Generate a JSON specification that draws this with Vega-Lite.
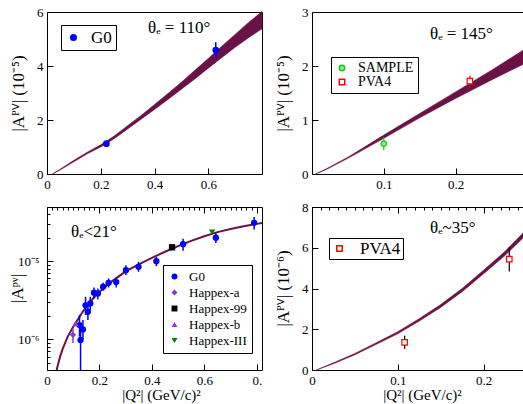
{
 "$schema": "https://vega.github.io/schema/vega-lite/v6.json",
 "padding": {"left": 7, "top": 5, "right": 0, "bottom": 0},
 "config": {
  "font": "Liberation Serif",
  "view": {"stroke": "black", "strokeWidth": 1},
  "axis": {"domain": false, "grid": false, "tickColor": "black", "tickWidth": 1, "labelColor": "black", "labelFont": "Liberation Serif", "labelFontSize": 13, "titleFont": "Liberation Serif", "titleFontSize": 17, "titleFontWeight": "normal", "titleColor": "black"},
  "legend": {"strokeColor": "black", "fillColor": "white", "labelFont": "Liberation Serif", "labelColor": "black"}
 },
 "columns": 2,
 "spacing": {"row": 33, "column": 50},
 "bounds": "flush",
 "resolve": {"scale": {"color": "independent", "shape": "independent", "fill": "independent", "stroke": "independent"}},
 "concat": [
    {
     "width": 215, "height": 162,
     "layer": [
      {
       "data": {"values": [
        {"q2":0.02,"lo":0,"hi":0},{"q2":0.05,"lo":0.155,"hi":0.185},{"q2":0.1,"lo":0.455,"hi":0.505},{"q2":0.15,"lo":0.75,"hi":0.81},{"q2":0.2,"lo":1.0,"hi":1.08},{"q2":0.25,"lo":1.31,"hi":1.41},{"q2":0.3,"lo":1.67,"hi":1.79},{"q2":0.35,"lo":2.03,"hi":2.17},{"q2":0.4,"lo":2.39,"hi":2.57},{"q2":0.45,"lo":2.76,"hi":2.98},{"q2":0.5,"lo":3.14,"hi":3.4},{"q2":0.55,"lo":3.52,"hi":3.84},{"q2":0.6,"lo":3.92,"hi":4.28},{"q2":0.65,"lo":4.31,"hi":4.73},{"q2":0.7,"lo":4.69,"hi":5.17},{"q2":0.75,"lo":5.05,"hi":5.61},{"q2":0.8,"lo":5.38,"hi":6.02}
       ]},
       "mark": {"type": "area", "color": "#6a1245", "stroke": "#6a1245", "strokeWidth": 0.6},
       "encoding": {
        "x": {"field": "q2", "type": "quantitative", "title": null, "scale": {"domain": [0, 0.8], "nice": false, "zero": false},
         "axis": {"labelOverlap": false, "labelSeparation": -1000, "labelFlush": false, "labelPadding": 10, "tickSize": -6,
          "values": [0, 0.2, 0.4, 0.6], "labelExpr": "format(datum.value,'.1~f')"}},
        "y": {"field": "lo", "type": "quantitative", "title": "|Aᴾⱽ| (10⁻⁵)", "scale": {"domain": [0, 6], "nice": false},
         "axis": {"labelOverlap": false, "labelSeparation": -1000, "labelFlush": false, "labelPadding": 10, "tickSize": -6,
          "values": [0, 1, 2, 3, 4, 5, 6], "labelExpr": "format(datum.value,'d')",
          "titleX": -29, "titleY": 81, "titleAngle": -90, "titleBaseline": "middle", "titleAlign": "center"}},
        "y2": {"field": "hi"}
       }
      },
      {
       "data": {"values": [{"exp":"G0","q2":0.221,"a":1.125,"lo":1.04,"hi":1.21},{"exp":"G0","q2":0.628,"a":4.59,"lo":4.3,"hi":4.88}]},
       "mark": {"type": "rule", "color": "blue", "strokeWidth": 1.5},
       "encoding": {"x": {"field": "q2", "type": "quantitative"}, "y": {"field": "lo", "type": "quantitative"}, "y2": {"field": "hi"}}
      },
      {
       "data": {"values": [{"exp":"G0","q2":0.221,"a":1.125,"lo":1.04,"hi":1.21},{"exp":"G0","q2":0.628,"a":4.59,"lo":4.3,"hi":4.88}]},
       "mark": {"type": "point", "filled": true, "opacity": 1, "size": 45},
       "encoding": {
        "x": {"field": "q2", "type": "quantitative"},
        "y": {"field": "a", "type": "quantitative"},
        "color": {"field": "exp", "type": "nominal", "scale": {"domain": ["G0"], "range": ["blue"]},
         "legend": {"title": null, "orient": "none", "legendX": 14, "legendY": 13, "padding": 4, "labelFontSize": 17, "symbolSize": 50, "labelOffset": 9}},
        "shape": {"field": "exp", "type": "nominal", "scale": {"domain": ["G0"], "range": ["circle"]},
         "legend": {"title": null, "orient": "none", "legendX": 14, "legendY": 13, "padding": 4, "labelFontSize": 17, "symbolSize": 50, "labelOffset": 9}}
       }
      },
      {
       "data": {"values": [{}]},
       "mark": {"type": "text", "align": "left", "baseline": "alphabetic", "fontSize": 17, "font": "Liberation Serif", "color": "black"},
       "encoding": {"x": {"datum": 0.376}, "y": {"datum": 5.22}, "text": {"value": "θₑ = 110°"}}
      }
     ]
    },
    {
     "width": 211, "height": 162,
     "layer": [
      {
       "data": {"values": [
        {"q2":0.005,"lo":0,"hi":0},{"q2":0.02,"lo":0.085,"hi":0.095},{"q2":0.05,"lo":0.29,"hi":0.31},{"q2":0.1,"lo":0.66,"hi":0.72},{"q2":0.15,"lo":1.04,"hi":1.12},{"q2":0.2,"lo":1.4,"hi":1.52},{"q2":0.25,"lo":1.74,"hi":1.92},{"q2":0.294,"lo":2.03,"hi":2.29}
       ]},
       "mark": {"type": "area", "color": "#6a1245", "stroke": "#6a1245", "strokeWidth": 0.6},
       "encoding": {
        "x": {"field": "q2", "type": "quantitative", "title": null, "scale": {"domain": [0, 0.294], "nice": false, "zero": false},
         "axis": {"labelOverlap": false, "labelSeparation": -1000, "labelFlush": false, "labelPadding": 10, "tickSize": -6,
          "values": [0.1, 0.2], "labelExpr": "format(datum.value,'.1~f')"}},
        "y": {"field": "lo", "type": "quantitative", "title": "|Aᴾⱽ| (10⁻⁵)", "scale": {"domain": [0, 3], "nice": false},
         "axis": {"labelOverlap": false, "labelSeparation": -1000, "labelFlush": false, "labelPadding": 10, "tickSize": -6,
          "values": [0, 0.5, 1, 1.5, 2, 2.5, 3], "labelExpr": "format(datum.value,'.1~f')",
          "titleX": -29, "titleY": 81, "titleAngle": -90, "titleBaseline": "middle", "titleAlign": "center"}},
        "y2": {"field": "hi"}
       }
      },
      {
       "data": {"values": [{"exp":"SAMPLE","q2":0.1,"a":0.561,"lo":0.44,"hi":0.68}]},
       "mark": {"type": "rule", "color": "#20c020", "strokeWidth": 1.2},
       "encoding": {"x": {"field": "q2", "type": "quantitative"}, "y": {"field": "lo", "type": "quantitative"}, "y2": {"field": "hi"}}
      },
      {
       "data": {"values": [{"exp":"PVA4","q2":0.22,"a":1.72,"lo":1.62,"hi":1.82}]},
       "mark": {"type": "rule", "color": "red", "strokeWidth": 1.2},
       "encoding": {"x": {"field": "q2", "type": "quantitative"}, "y": {"field": "lo", "type": "quantitative"}, "y2": {"field": "hi"}}
      },
      {
       "data": {"values": [{"exp":"SAMPLE","q2":0.1,"a":0.561},{"exp":"PVA4","q2":0.22,"a":1.72}]},
       "mark": {"type": "point", "filled": true, "opacity": 1, "size": 30, "strokeWidth": 1.2},
       "encoding": {
        "x": {"field": "q2", "type": "quantitative"},
        "y": {"field": "a", "type": "quantitative"},
        "fill": {"field": "exp", "type": "nominal", "scale": {"domain": ["SAMPLE", "PVA4"], "range": ["#80f080", "white"]},
         "legend": {"title": null, "orient": "none", "legendX": 19, "legendY": 45, "padding": 4, "labelFontSize": 14, "symbolSize": 30, "labelOffset": 9, "rowPadding": 0}},
        "stroke": {"field": "exp", "type": "nominal", "scale": {"domain": ["SAMPLE", "PVA4"], "range": ["#20c020", "red"]},
         "legend": {"title": null, "orient": "none", "legendX": 19, "legendY": 45, "padding": 4, "labelFontSize": 14, "symbolSize": 30, "labelOffset": 9, "rowPadding": 0}},
        "shape": {"field": "exp", "type": "nominal", "scale": {"domain": ["SAMPLE", "PVA4"], "range": ["circle", "square"]},
         "legend": {"title": null, "orient": "none", "legendX": 19, "legendY": 45, "padding": 4, "labelFontSize": 14, "symbolSize": 30, "labelOffset": 9, "rowPadding": 0}}
       }
      },
      {
       "data": {"values": [{}]},
       "mark": {"type": "text", "align": "left", "baseline": "alphabetic", "fontSize": 17, "font": "Liberation Serif", "color": "black"},
       "encoding": {"x": {"datum": 0.1644}, "y": {"datum": 2.5}, "text": {"value": "θₑ = 145°"}}
      }
     ]
    },
    {
     "width": 215, "height": 163,
     "resolve": {"axis": {"x": "independent"}},
     "layer": [
      {
       "layer": [
        {
         "data": {"values": [
          {"q2":0.035,"a":3.8e-7},{"q2":0.04,"a":4.5e-7},{"q2":0.05,"a":6.0e-7},{"q2":0.06,"a":7.6e-7},{"q2":0.08,"a":1.1e-6},{"q2":0.1,"a":1.45e-6},{"q2":0.12,"a":1.85e-6},{"q2":0.14,"a":2.35e-6},{"q2":0.16,"a":2.9e-6},{"q2":0.18,"a":3.45e-6},{"q2":0.2,"a":4.05e-6},{"q2":0.25,"a":5.6e-6},{"q2":0.3,"a":7.4e-6},{"q2":0.35,"a":9.1e-6},{"q2":0.4,"a":1.1e-5},{"q2":0.45,"a":1.32e-5},{"q2":0.5,"a":1.56e-5},{"q2":0.55,"a":1.82e-5},{"q2":0.6,"a":2.08e-5},{"q2":0.65,"a":2.35e-5},{"q2":0.7,"a":2.58e-5},{"q2":0.75,"a":2.8e-5},{"q2":0.8,"a":3.0e-5},{"q2":0.82,"a":3.08e-5}
         ]},
         "mark": {"type": "line", "color": "#6a1245", "strokeWidth": 2, "clip": true},
         "encoding": {
          "x": {"field": "q2", "type": "quantitative", "title": "|Q²| (GeV/c)²", "scale": {"domain": [0, 0.82], "nice": false, "zero": false},
           "axis": {"labelOverlap": false, "labelSeparation": -1000, "labelFlush": false, "labelPadding": 10, "tickSize": -6,
            "values": [0, 0.2, 0.4, 0.6, 0.8],
            "labelExpr": "datum.value > 0.7 ? '0.' : format(datum.value,'.1~f')",
            "titleFontSize": 15, "titleX": 114, "titleY": 29, "titleBaseline": "alphabetic", "titleAlign": "center"}},
          "y": {"field": "a", "type": "quantitative", "title": "|Aᵖᵛ|", "scale": {"type": "log", "domain": [4.05e-7, 4.93e-5], "nice": false},
           "axis": {"labelOverlap": false, "labelSeparation": -1000, "labelFlush": false, "labelPadding": 14,
            "values": [5e-7,6e-7,7e-7,8e-7,9e-7,1e-6,2e-6,3e-6,4e-6,5e-6,6e-6,7e-6,8e-6,9e-6,1e-5,2e-5,3e-5,4e-5],
            "tickSize": {"condition": {"test": "abs(log(datum.value)/LN10-round(log(datum.value)/LN10))<1e-6", "value": -6}, "value": -3},
            "labelExpr": "abs(log(datum.value)/LN10-round(log(datum.value)/LN10))<1e-6 ? (round(log(datum.value)/LN10) == -5 ? '10⁻⁵' : '10⁻⁶') : ''",
            "titleX": -30, "titleY": 81, "titleAngle": -90, "titleBaseline": "middle", "titleAlign": "center"}}
         }
        },
        {
         "data": {"values": [
          {"exp":"G0","q2":0.124,"a":1.52e-6,"lo":1.08e-6,"hi":2.05e-6},{"exp":"G0","q2":0.128,"a":0.98e-6,"lo":3.0e-7,"hi":1.52e-6},{"exp":"G0","q2":0.137,"a":1.34e-6,"lo":1.0e-6,"hi":1.77e-6},{"exp":"G0","q2":0.147,"a":2.72e-6,"lo":2.05e-6,"hi":3.5e-6},{"exp":"G0","q2":0.156,"a":2.25e-6,"lo":1.77e-6,"hi":2.88e-6},{"exp":"G0","q2":0.165,"a":2.88e-6,"lo":2.37e-6,"hi":3.51e-6},{"exp":"G0","q2":0.179,"a":3.95e-6,"lo":3.34e-6,"hi":4.61e-6},{"exp":"G0","q2":0.194,"a":3.87e-6,"lo":3.24e-6,"hi":4.48e-6},{"exp":"G0","q2":0.214,"a":4.7e-6,"lo":4.18e-6,"hi":5.28e-6},{"exp":"G0","q2":0.235,"a":5.28e-6,"lo":4.61e-6,"hi":6.01e-6},{"exp":"G0","q2":0.264,"a":5.4e-6,"lo":4.61e-6,"hi":6.2e-6},{"exp":"G0","q2":0.301,"a":7.67e-6,"lo":6.63e-6,"hi":8.89e-6},{"exp":"G0","q2":0.349,"a":8.47e-6,"lo":7.31e-6,"hi":9.8e-6},{"exp":"G0","q2":0.417,"a":1.0e-5,"lo":8.63e-6,"hi":1.135e-5},{"exp":"G0","q2":0.519,"a":1.65e-5,"lo":1.36e-5,"hi":1.94e-5},{"exp":"G0","q2":0.644,"a":2.0e-5,"lo":1.71e-5,"hi":2.3e-5},{"exp":"G0","q2":0.79,"a":3.09e-5,"lo":2.54e-5,"hi":3.68e-5},
          {"exp":"Happex-a","q2":0.099,"a":1.14e-6,"lo":0.9e-6,"hi":1.38e-6},{"exp":"Happex-99","q2":0.477,"a":1.505e-5,"lo":1.42e-5,"hi":1.59e-5},{"exp":"Happex-b","q2":0.109,"a":1.58e-6,"lo":1.45e-6,"hi":1.71e-6},{"exp":"Happex-III","q2":0.63,"a":2.35e-5,"lo":2.27e-5,"hi":2.43e-5}
         ]},
         "layer": [
          {
           "transform": [{"filter": "datum.exp == 'G0'"}],
           "mark": {"type": "rule", "color": "blue", "strokeWidth": 1.5, "clip": true},
           "encoding": {"x": {"field": "q2", "type": "quantitative"}, "y": {"field": "lo", "type": "quantitative"}, "y2": {"field": "hi"}}
          },
          {
           "transform": [{"filter": "datum.exp == 'Happex-a'"}],
           "mark": {"type": "rule", "color": "#8040c0", "strokeWidth": 1.5, "clip": true},
           "encoding": {"x": {"field": "q2", "type": "quantitative"}, "y": {"field": "lo", "type": "quantitative"}, "y2": {"field": "hi"}}
          },
          {
           "mark": {"type": "point", "filled": true, "opacity": 1, "size": 40},
           "encoding": {
            "x": {"field": "q2", "type": "quantitative"},
            "y": {"field": "a", "type": "quantitative"},
            "color": {"field": "exp", "type": "nominal", "scale": {"domain": ["G0", "Happex-a", "Happex-99", "Happex-b", "Happex-III"], "range": ["blue", "#8040c0", "black", "#a030e0", "#008000"]},
             "legend": {"title": null, "orient": "none", "legendX": 116, "legendY": 58, "padding": 5, "labelFontSize": 13, "symbolSize": 35, "labelOffset": 8, "rowPadding": 2}},
            "shape": {"field": "exp", "type": "nominal", "scale": {"domain": ["G0", "Happex-a", "Happex-99", "Happex-b", "Happex-III"], "range": ["circle", "diamond", "square", "triangle-up", "triangle-down"]},
             "legend": {"title": null, "orient": "none", "legendX": 116, "legendY": 58, "padding": 5, "labelFontSize": 13, "symbolSize": 35, "labelOffset": 8, "rowPadding": 2}}
           }
          }
         ]
        },
        {
         "data": {"values": [{}]},
         "mark": {"type": "text", "align": "left", "baseline": "alphabetic", "fontSize": 17, "font": "Liberation Serif", "color": "black"},
         "encoding": {"x": {"datum": 0.0915}, "y": {"datum": 2.06e-5}, "text": {"value": "θₑ<21°"}}
        }
       ]
      },
      {
       "data": {"values": [{"q2": 0.4}]},
       "mark": {"type": "rule", "opacity": 0},
       "encoding": {
        "x": {"field": "q2", "type": "quantitative", "title": null,
         "axis": {"orient": "top", "labels": false, "values": [0,0.02,0.04,0.06,0.08,0.1,0.12,0.14,0.16,0.18,0.2,0.22,0.24,0.26,0.28,0.3,0.32,0.34,0.36,0.38,0.4,0.42,0.44,0.46,0.48,0.5,0.52,0.54,0.56,0.58,0.6,0.62,0.64,0.66,0.68,0.7,0.72,0.74,0.76,0.78,0.8],
          "tickSize": {"condition": {"test": "abs(datum.value/0.2-round(datum.value/0.2))<1e-6", "value": -6}, "value": -3}}}
       }
      }
     ]
    },
    {
     "width": 211, "height": 163,
     "resolve": {"axis": {"x": "independent"}},
     "layer": [
      {
       "layer": [
        {
         "data": {"values": [
          {"q2":0.005,"lo":0,"hi":0},{"q2":0.025,"lo":0.31,"hi":0.35},{"q2":0.05,"lo":0.75,"hi":0.81},{"q2":0.075,"lo":1.26,"hi":1.34},{"q2":0.1,"lo":1.78,"hi":1.88},{"q2":0.125,"lo":2.4,"hi":2.52},{"q2":0.15,"lo":3.07,"hi":3.21},{"q2":0.175,"lo":3.84,"hi":4.0},{"q2":0.2,"lo":4.72,"hi":4.9},{"q2":0.225,"lo":5.62,"hi":5.82},{"q2":0.246,"lo":6.48,"hi":6.72}
         ]},
         "mark": {"type": "area", "color": "#6a1245", "stroke": "#6a1245", "strokeWidth": 0.6},
         "encoding": {
          "x": {"field": "q2", "type": "quantitative", "title": "|Q²| (GeV/c)²", "scale": {"domain": [0, 0.246], "nice": false, "zero": false},
           "axis": {"labelOverlap": false, "labelSeparation": -1000, "labelFlush": false, "labelPadding": 10, "tickSize": -6,
            "values": [0, 0.1, 0.2], "labelExpr": "format(datum.value,'.1~f')",
            "titleFontSize": 15, "titleX": 110, "titleY": 29, "titleBaseline": "alphabetic", "titleAlign": "center"}},
          "y": {"field": "lo", "type": "quantitative", "title": "|Aᴾⱽ| (10⁻⁶)", "scale": {"domain": [0, 8], "nice": false},
           "axis": {"labelOverlap": false, "labelSeparation": -1000, "labelFlush": false, "labelPadding": 10,
            "values": [0,0.5,1,1.5,2,2.5,3,3.5,4,4.5,5,5.5,6,6.5,7,7.5,8],
            "tickSize": {"condition": {"test": "abs(datum.value/2-round(datum.value/2))<1e-6", "value": -6}, "value": -3},
            "labelExpr": "abs(datum.value/2-round(datum.value/2))<1e-6 ? format(datum.value,'d') : ''",
            "titleX": -29, "titleY": 81, "titleAngle": -90, "titleBaseline": "middle", "titleAlign": "center"}},
          "y2": {"field": "hi"}
         }
        },
        {
         "data": {"values": [{"exp":"PVA4","q2":0.108,"a":1.36,"lo":1.04,"hi":1.68},{"exp":"PVA4","q2":0.23,"a":5.44,"lo":4.84,"hi":6.04}]},
         "layer": [
          {
           "mark": {"type": "rule", "color": "black", "strokeWidth": 1.2},
           "encoding": {"x": {"field": "q2", "type": "quantitative"}, "y": {"field": "lo", "type": "quantitative"}, "y2": {"field": "hi"}}
          },
          {
           "mark": {"type": "point", "filled": true, "opacity": 1, "size": 30, "strokeWidth": 1.2},
           "encoding": {
            "x": {"field": "q2", "type": "quantitative"},
            "y": {"field": "a", "type": "quantitative"},
            "fill": {"field": "exp", "type": "nominal", "scale": {"domain": ["PVA4"], "range": ["white"]},
             "legend": {"title": null, "orient": "none", "legendX": 17, "legendY": 31, "padding": 2, "labelFontSize": 17, "symbolSize": 30, "labelOffset": 12}},
            "stroke": {"field": "exp", "type": "nominal", "scale": {"domain": ["PVA4"], "range": ["red"]},
             "legend": {"title": null, "orient": "none", "legendX": 17, "legendY": 31, "padding": 2, "labelFontSize": 17, "symbolSize": 30, "labelOffset": 12}},
            "shape": {"field": "exp", "type": "nominal", "scale": {"domain": ["PVA4"], "range": ["square"]},
             "legend": {"title": null, "orient": "none", "legendX": 17, "legendY": 31, "padding": 2, "labelFontSize": 17, "symbolSize": 30, "labelOffset": 12}}
           }
          }
         ]
        },
        {
         "data": {"values": [{}]},
         "mark": {"type": "text", "align": "left", "baseline": "alphabetic", "fontSize": 17, "font": "Liberation Serif", "color": "black"},
         "encoding": {"x": {"datum": 0.1376}, "y": {"datum": 6.72}, "text": {"value": "θₑ~35°"}}
        }
       ]
      },
      {
       "data": {"values": [{"q2": 0.1}]},
       "mark": {"type": "rule", "opacity": 0},
       "encoding": {
        "x": {"field": "q2", "type": "quantitative", "title": null,
         "axis": {"orient": "top", "labels": false, "values": [0,0.01,0.02,0.03,0.04,0.05,0.06,0.07,0.08,0.09,0.1,0.11,0.12,0.13,0.14,0.15,0.16,0.17,0.18,0.19,0.2,0.21,0.22,0.23,0.24],
          "tickSize": {"condition": {"test": "abs(datum.value/0.1-round(datum.value/0.1))<1e-6", "value": -6}, "value": -3}}}
       }
      }
     ]
    }
 ]
}
